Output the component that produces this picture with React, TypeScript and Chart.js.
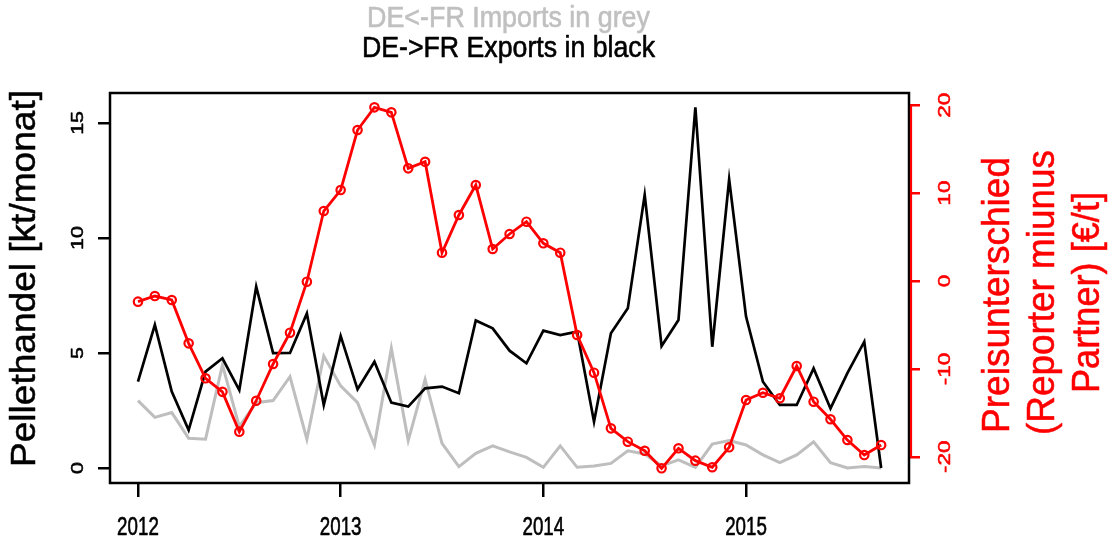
import React, { useEffect, useRef } from "react";
import { Chart, registerables } from "chart.js";

Chart.register(...registerables);

const months = [
  "2012-01", "2012-02", "2012-03", "2012-04", "2012-05", "2012-06", "2012-07", "2012-08", "2012-09", "2012-10", "2012-11", "2012-12",
  "2013-01", "2013-02", "2013-03", "2013-04", "2013-05", "2013-06", "2013-07", "2013-08", "2013-09", "2013-10", "2013-11", "2013-12",
  "2014-01", "2014-02", "2014-03", "2014-04", "2014-05", "2014-06", "2014-07", "2014-08", "2014-09", "2014-10", "2014-11", "2014-12",
  "2015-01", "2015-02", "2015-03", "2015-04", "2015-05", "2015-06", "2015-07", "2015-08", "2015-09",
];

// DE->FR exports (kt/month), black
const exportsKt = [
  3.75, 6.22, 3.32, 1.65, 4.19, 4.77, 3.39, 7.88, 4.99, 5.0, 6.72, 2.74,
  5.74, 3.42, 4.62, 2.84, 2.67, 3.46, 3.54, 3.25, 6.41, 6.07, 5.1, 4.55,
  5.97, 5.78, 5.93, 2.01, 5.86, 6.94, 11.87, 5.3, 6.43, 15.68, 5.27, 12.55,
  6.58, 3.75, 2.74, 2.74, 4.33, 2.59, 4.12, 5.49, 0.0,
];

// DE<-FR imports (kt/month), grey
const importsKt = [
  2.93, 2.2, 2.41, 1.29, 1.25, 4.48, 1.8, 2.84, 2.93, 3.97, 1.25, 4.87,
  3.57, 2.84, 1.0, 5.2, 1.19, 3.85, 1.07, 0.06, 0.64, 0.96, 0.7, 0.46,
  0.03, 0.96, 0.03, 0.09, 0.2, 0.75, 0.61, 0.09, 0.35, 0.03, 1.04, 1.19,
  1.0, 0.57, 0.23, 0.57, 1.14, 0.23, 0.0, 0.06, 0.0,
];

// Price difference (reporter minus partner), EUR/t, red
const priceDiff = [
  -2.35, -1.71, -2.16, -7.09, -11.07, -12.61, -17.14, -13.62, -9.44, -5.88, -0.08, 7.96,
  10.35, 17.18, 19.76, 19.19, 12.82, 13.57, 3.22, 7.51, 10.92, 3.64, 5.35, 6.75,
  4.29, 3.22, -6.14, -10.43, -16.76, -18.28, -19.31, -21.31, -19.03, -20.44, -21.19, -18.92,
  -13.54, -12.71, -13.34, -9.67, -13.73, -15.73, -18.09, -19.8, -18.66,
];

const xTicks = [2012, 2013, 2014, 2015];
const xTickLabels = ["2012", "2013", "2014", "2015"];
const leftTicks = [0, 5, 10, 15];
const leftTickLabels = ["0", "5", "10", "15"];
const rightTicks = [-20, -10, 0, 10, 20];
const rightTickLabels = ["-20", "-10", "0", "10", "20"];

const titleGrey = "DE<-FR Imports in grey";
const titleBlack = "DE->FR Exports in black";
const leftTitle = "Pellethandel [kt/monat]";
const rightTitleLines = ["Preisunterschied", "(Reporter miunus", "Partner) [€/t]"];

const FONT = '"Liberation Sans", Arial, Helvetica, sans-serif';

const toYear = (m: string) => {
  const [y, mo] = m.split("-").map(Number);
  return y + (mo - 1) / 12;
};

function drawFit(
  ctx: CanvasRenderingContext2D,
  text: string,
  x: number,
  y: number,
  size: number,
  color: string,
  rot: number,
  opts: { len?: number; along?: number; weight?: number }
) {
  ctx.save();
  ctx.font = `${size}px ${FONT}`;
  ctx.fillStyle = color;
  ctx.strokeStyle = color;
  ctx.textAlign = "center";
  ctx.textBaseline = "alphabetic";
  ctx.translate(x, y);
  if (rot) ctx.rotate(rot);
  const w = ctx.measureText(text).width;
  let sx = 1;
  if (opts.len) sx = opts.len / w;
  else if (opts.along) sx = opts.along / size;
  ctx.scale(sx, 1);
  ctx.fillText(text, 0, 0);
  if (opts.weight) {
    ctx.lineWidth = opts.weight;
    ctx.lineJoin = "round";
    ctx.strokeText(text, 0, 0);
  }
  ctx.restore();
}

const rDecor = {
  id: "rDecor",
  afterDraw(chart: any) {
    const ctx: CanvasRenderingContext2D = chart.ctx;
    const { left, right, top, bottom } = chart.chartArea;
    const xs = chart.scales.x;
    const yl = chart.scales.y;
    const yr = chart.scales.y2;
    ctx.save();
    // box
    ctx.strokeStyle = "#000";
    ctx.lineWidth = 2.5;
    ctx.strokeRect(left, top, right - left, bottom - top);
    // red right axis line
    ctx.strokeStyle = "#ff0000";
    ctx.lineWidth = 2.2;
    ctx.beginPath();
    ctx.moveTo(right + 2, yr.getPixelForValue(rightTicks[0]));
    ctx.lineTo(right + 2, yr.getPixelForValue(rightTicks[rightTicks.length - 1]));
    ctx.stroke();
    ctx.restore();

    const R = -Math.PI / 2;
    // titles
    drawFit(ctx, titleGrey, 508.5, 27, 29, "#c0c0c0", 0, { len: 283, weight: 0.6 });
    drawFit(ctx, titleBlack, 508.5, 57, 29, "#000", 0, { len: 293, weight: 0.6 });
    // left title
    drawFit(ctx, leftTitle, 35, 278.5, 35, "#000", R, { len: 377, weight: 0.5 });
    // right title
    const rx = [1009, 1054, 1099];
    const rc = [295, 292.5, 292.5];
    const rl = [276, 285, 201];
    rightTitleLines.forEach((t, i) =>
      drawFit(ctx, t, rx[i], rc[i], 38, "#ff0000", R, { len: rl[i], weight: 0.5 })
    );
    // tick labels
    leftTicks.forEach((v, i) =>
      drawFit(ctx, leftTickLabels[i], 83, yl.getPixelForValue(v), 17, "#000", R, { along: 21.5, weight: 0.5 })
    );
    rightTicks.forEach((v, i) =>
      drawFit(ctx, rightTickLabels[i], 950, yr.getPixelForValue(v), 17, "#ff0000", R, { along: 22.5, weight: 0.5 })
    );
    xTicks.forEach((v, i) =>
      drawFit(ctx, xTickLabels[i], xs.getPixelForValue(v), 535, 25, "#000", 0, { along: 18.75, weight: 0.6 })
    );
  },
};

export default function App() {
  const ref = useRef<HTMLCanvasElement>(null);
  useEffect(() => {
    if (!ref.current) return;
    const xv = months.map(toYear);
    const chart = new Chart(ref.current, {
      type: "line",
      data: {
        datasets: [
          {
            label: "Preisunterschied",
            data: priceDiff.map((v, i) => ({ x: xv[i], y: v })),
            yAxisID: "y2",
            borderColor: "#ff0000",
            borderWidth: 2.8,
            pointRadius: 4.2,
            pointStyle: "circle",
            pointBorderColor: "#ff0000",
            pointBackgroundColor: "rgba(255,255,255,0)",
            pointBorderWidth: 2.2,
            tension: 0,
            order: 1,
          },
          {
            label: "DE->FR Exports",
            data: exportsKt.map((v, i) => ({ x: xv[i], y: v })),
            yAxisID: "y",
            borderColor: "#000000",
            borderWidth: 2.7,
            pointRadius: 0,
            tension: 0,
            order: 2,
          },
          {
            label: "DE<-FR Imports",
            data: importsKt.map((v, i) => ({ x: xv[i], y: v })),
            yAxisID: "y",
            borderColor: "#bebebe",
            borderWidth: 3,
            pointRadius: 0,
            tension: 0,
            order: 3,
          },
        ],
      },
      options: {
        animation: false,
        responsive: false,
        devicePixelRatio: 1,
        layout: { padding: { top: 93, left: 0, right: 0, bottom: 0 } },
        plugins: {
          legend: { display: false },
          title: { display: false },
          tooltip: { enabled: false },
        },
        scales: {
          x: {
            type: "linear",
            position: "bottom",
            min: 2011.862,
            max: 2015.804,
            afterBuildTicks: (s: any) => {
              s.ticks = xTicks.map((v) => ({ value: v }));
            },
            afterFit: (s: any) => {
              s.height = 65;
            },
            ticks: { display: false },
            border: { display: false },
            grid: { drawOnChartArea: false, drawTicks: true, tickLength: 14, color: "#000", lineWidth: 2.5 },
          },
          y: {
            type: "linear",
            position: "left",
            min: -0.652,
            max: 16.3,
            afterBuildTicks: (s: any) => {
              s.ticks = leftTicks.map((v) => ({ value: v }));
            },
            afterFit: (s: any) => {
              s.width = 110;
            },
            ticks: { display: false },
            border: { display: false },
            grid: { drawOnChartArea: false, drawTicks: true, tickLength: 12, color: "#000", lineWidth: 2.5 },
          },
          y2: {
            type: "linear",
            position: "right",
            min: -22.98,
            max: 21.39,
            afterBuildTicks: (s: any) => {
              s.ticks = rightTicks.map((v) => ({ value: v }));
            },
            afterFit: (s: any) => {
              s.width = 206;
            },
            ticks: { display: false },
            border: { display: false },
            grid: { drawOnChartArea: false, drawTicks: true, tickLength: 11, color: "#ff0000", lineWidth: 2.5 },
          },
        },
      },
      plugins: [rDecor],
    } as any);
    return () => chart.destroy();
  }, []);
  return (
    <div style={{ position: "fixed", left: 0, top: 0, width: 1115, height: 548, background: "#fff" }}>
      <canvas ref={ref} width={1115} height={548} style={{ display: "block", width: 1115, height: 548 }} />
    </div>
  );
}
